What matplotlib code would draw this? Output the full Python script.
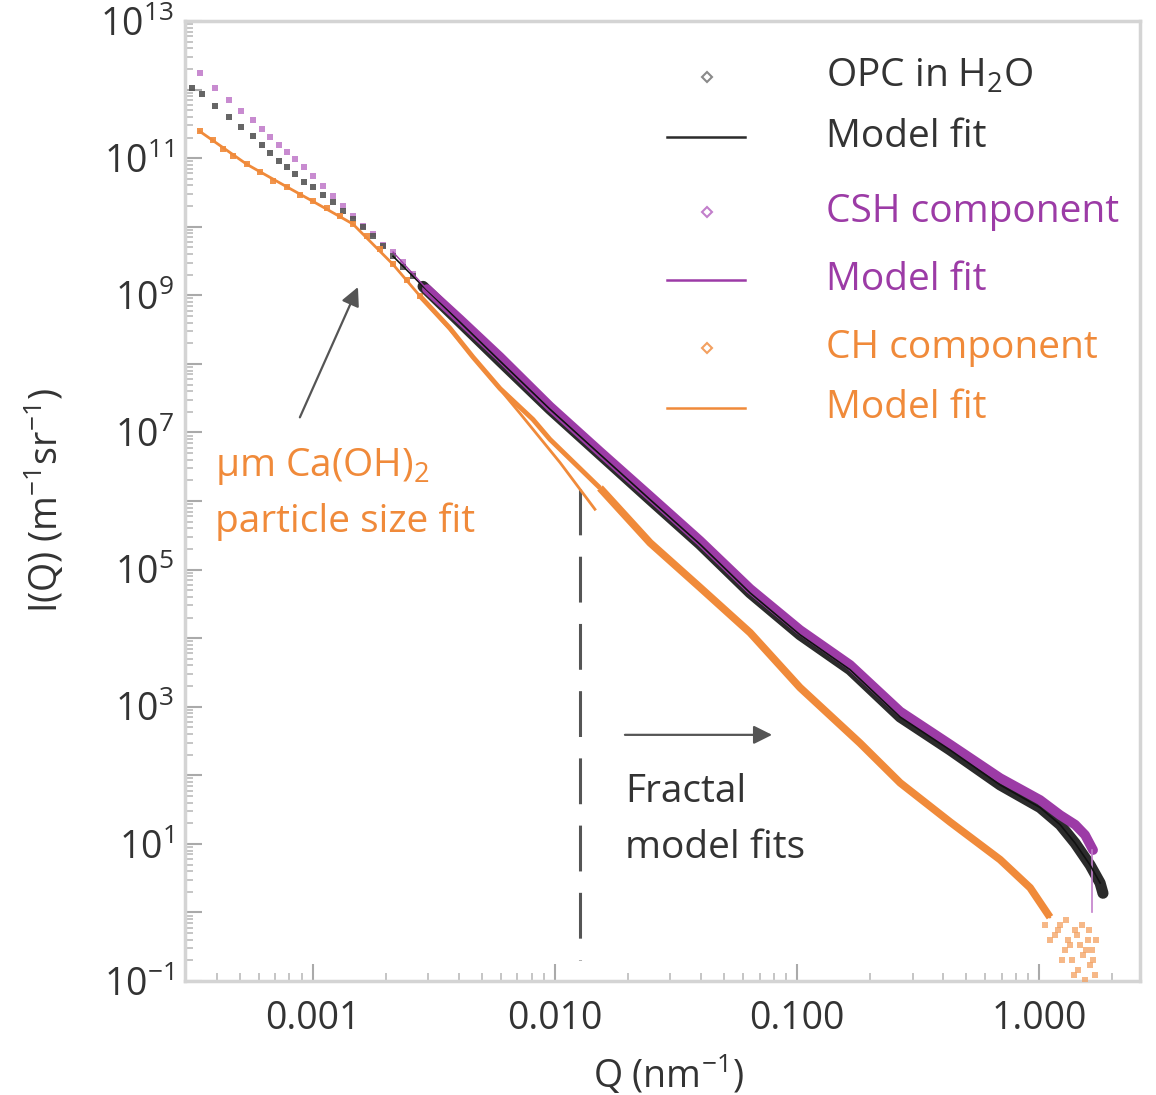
import numpy as np
import matplotlib
matplotlib.use("Agg")
import matplotlib.pyplot as plt
from matplotlib.ticker import FixedLocator, FuncFormatter, LogLocator, NullFormatter

plt.rcParams['font.family'] = ['Open Sans', 'DejaVu Sans']
plt.rcParams['mathtext.fontset'] = 'custom'
plt.rcParams['mathtext.rm'] = 'Open Sans'
plt.rcParams['mathtext.it'] = 'Open Sans:italic'
plt.rcParams['mathtext.bf'] = 'Open Sans:bold'

# ---------------- data (log10 Q [nm^-1], log10 I(Q) [m^-1 sr^-1]) ----------------
# OPC in H2O : sparse low-Q points
opc_lq_sparse = [-3.500, -3.459, -3.405, -3.347, -3.298, -3.248, -3.211, -3.178, -3.140, -3.107,
                 -3.074, -3.037, -3.000, -2.959, -2.917, -2.876, -2.835, -2.793, -2.752, -2.711,
                 -2.669, -2.628, -2.587, -2.545]
opc_li_sparse = [12.02, 11.93, 11.76, 11.60, 11.45, 11.32, 11.19, 11.07, 10.96, 10.87,
                 10.77, 10.65, 10.58, 10.47, 10.36, 10.23, 10.11, 9.99, 9.86, 9.72,
                 9.57, 9.42, 9.28, 9.13]
# OPC in H2O : dense data band
opc_lq_dense = [-2.545, -2.393, -2.227, -2.021, -1.814, -1.607, -1.401, -1.194, -0.988, -0.781,
                -0.574, -0.368, -0.161, 0.004, 0.087, 0.149, 0.211, 0.252, 0.264]
opc_li_dense = [9.13, 8.61, 8.04, 7.34, 6.68, 6.02, 5.37, 4.66, 4.05, 3.54,
                2.85, 2.37, 1.86, 1.53, 1.28, 1.01, 0.69, 0.43, 0.28]

# CSH component
csh_lq_sparse = [-3.467, -3.405, -3.347, -3.298, -3.248, -3.211, -3.178, -3.140, -3.107, -3.074,
                 -3.037, -3.000, -2.959, -2.917, -2.876, -2.835, -2.793, -2.752, -2.711, -2.669,
                 -2.628, -2.587, -2.529]
csh_li_sparse = [12.24, 12.02, 11.85, 11.69, 11.55, 11.42, 11.31, 11.19, 11.09, 10.99,
                 10.87, 10.74, 10.59, 10.45, 10.30, 10.15, 10.01, 9.89, 9.74, 9.63,
                 9.48, 9.31, 9.09]
csh_lq_dense = [-2.529, -2.393, -2.227, -2.021, -1.814, -1.607, -1.401, -1.194, -0.988, -0.781,
                -0.574, -0.368, -0.161, 0.004, 0.087, 0.149, 0.190, 0.223]
csh_li_dense = [9.09, 8.65, 8.10, 7.38, 6.72, 6.07, 5.42, 4.72, 4.12, 3.61,
                2.93, 2.45, 1.96, 1.64, 1.42, 1.28, 1.13, 0.91]
csh_errbar_lq = 0.219
csh_errbar_li = [0.91, 0.00]

# CH component
ch_lq_sparse = [-3.467, -3.413, -3.372, -3.331, -3.273, -3.219, -3.165, -3.107, -3.054, -3.000,
                -2.942, -2.888, -2.835, -2.777, -2.723, -2.669, -2.612, -2.558]
ch_li_sparse = [11.39, 11.26, 11.13, 11.03, 10.91, 10.80, 10.66, 10.58, 10.47, 10.37,
                10.28, 10.15, 10.04, 9.86, 9.67, 9.45, 9.23, 8.99]
ch_lq_mid = [-2.558, -2.434, -2.339, -2.227, -2.091, -2.021, -1.814]
ch_li_mid = [8.99, 8.52, 8.10, 7.64, 7.19, 6.90, 6.19]
ch_lq_dense = [-1.814, -1.607, -1.401, -1.194, -0.988, -0.740, -0.574, -0.368, -0.161, -0.037, 0.045]
ch_li_dense = [6.19, 5.39, 4.74, 4.08, 3.28, 2.47, 1.89, 1.32, 0.77, 0.36, -0.07]
ch_lq_noise = [0.066, 0.087, 0.107, 0.120, 0.136, 0.149, 0.161, 0.169, 0.182, 0.190,
               0.202, 0.211, 0.219, 0.231, 0.025, 0.045, 0.079, 0.095, 0.112, 0.128,
               0.145, 0.157, 0.178, 0.194, 0.207, 0.223, 0.236, 0.128]
ch_li_noise = [-0.33, -0.18, -0.55, -0.40, -0.69, -0.26, -0.84, -0.47, -0.62, -0.99,
               -0.40, -0.77, -0.55, -0.91, -0.18, -0.40, -0.26, -0.69, -0.11, -0.47,
               -0.91, -0.33, -0.18, -0.55, -0.26, -0.69, -0.40, -1.06]

# Model fits
opc_fit_lq = [-2.669, -2.545, -2.393, -2.227, -2.021, -1.814, -1.607, -1.401,
              -1.194, -0.988, -0.781, -0.574, -0.368, -0.161, 0.004, 0.087, 0.149, 0.211, 0.252]
opc_fit_li = [9.57, 9.13, 8.61, 8.04, 7.34, 6.68, 6.02, 5.37,
              4.66, 4.05, 3.54, 2.85, 2.37, 1.86, 1.53, 1.28, 1.01, 0.69, 0.43]
csh_fit_lq = [-2.669, -2.529, -2.393, -2.227, -2.021, -1.814, -1.607, -1.401,
              -1.194, -0.988, -0.781, -0.574, -0.368, -0.161, 0.004, 0.087, 0.149, 0.190]
csh_fit_li = [9.63, 9.09, 8.65, 8.10, 7.38, 6.72, 6.07, 5.42,
              4.72, 4.12, 3.61, 2.93, 2.45, 1.96, 1.64, 1.42, 1.28, 1.13]
ch_psfit_lq = [-3.467, -3.273, -3.107, -3.000, -2.835, -2.669, -2.558, -2.434, -2.310, -2.145, -1.979, -1.835]
ch_psfit_li = [11.39, 10.91, 10.58, 10.37, 10.04, 9.45, 8.99, 8.50, 7.98, 7.28, 6.56, 5.88]
ch_frfit_lq = [-2.021, -1.814, -1.607, -1.401, -1.194, -0.988, -0.740, -0.574, -0.368, -0.161, -0.037, 0.045]
ch_frfit_li = [6.90, 6.19, 5.39, 4.74, 4.08, 3.28, 2.47, 1.89, 1.32, 0.77, 0.36, -0.07]

# Annotation anchors (log10 values)
cut_lq = -1.897
cut_li = [6.17, -0.69]

# ---------------- styling ----------------
C_BLK = '#2b2b2b'
C_PUR = '#9c3ba6'
C_ORG = '#f08a3a'
C_PUR_L = '#c27fcb'
C_ORG_L = '#f3a060'
C_BLK_L = '#555555'

def p(a):
    return np.power(10.0, np.asarray(a, dtype=float))

fig = plt.figure(figsize=(11.56, 10.95), dpi=100)
ax = fig.add_axes([0.1600, 0.1041, 0.8261, 0.8767])
ax.set_xscale('log')
ax.set_yscale('log')
ax.set_xlim(2.96e-4, 2.61)
ax.set_ylim(1e-1, 1e13)

# data: sparse markers
ax.plot(p(csh_lq_sparse), p(csh_li_sparse), 's', ms=5, mew=0, color=C_PUR_L, alpha=0.9, zorder=3)
ax.plot(p(opc_lq_sparse), p(opc_li_sparse), 's', ms=4.5, mew=0, color=C_BLK_L, alpha=0.9, zorder=3)
ax.plot(p(ch_lq_sparse), p(ch_li_sparse), 's', ms=4.5, mew=0, color=C_ORG, alpha=0.9, zorder=3)

# data: dense bands
ax.plot(p(opc_lq_dense), p(opc_li_dense), '-', lw=8, color=C_BLK, solid_capstyle='round', zorder=3)
ax.plot(p(csh_lq_dense), p(csh_li_dense), '-', lw=7, color=C_PUR, solid_capstyle='round', zorder=4)
ax.plot([p(csh_errbar_lq)] * 2, p(csh_errbar_li), '-', lw=1.2, color=C_PUR_L, zorder=4)
ax.plot(p(ch_lq_mid), p(ch_li_mid), '-', lw=3.5, color=C_ORG, solid_capstyle='butt', zorder=3)
ax.plot(p(ch_lq_dense), p(ch_li_dense), '-', lw=5.5, color=C_ORG, solid_capstyle='butt', zorder=3)
ax.plot(p(ch_lq_noise), p(ch_li_noise), 's', ms=5, mew=0, color=C_ORG_L, alpha=0.75, zorder=3)

# fits
ax.plot(p(opc_fit_lq), p(opc_fit_li), '-', lw=1.2, color='#111111', zorder=5)
ax.plot(p(csh_fit_lq), p(csh_fit_li), '-', lw=1.0, color=C_PUR, zorder=5)
ax.plot(p(ch_psfit_lq), p(ch_psfit_li), '-', lw=2.0, color=C_ORG, zorder=5)
ax.plot(p(ch_frfit_lq), p(ch_frfit_li), '-', lw=1.5, color=C_ORG, zorder=5)

# dashed cut-off line
ax.plot([p(cut_lq)] * 2, p(cut_li), color='#555555', lw=2.2, ls=(0, (15, 7)), zorder=2)

# arrows
ax.annotate('', xy=(p(-2.814), p(9.12)), xytext=(p(-3.054), p(7.22)),
            arrowprops=dict(arrowstyle='-|>', color='#555555', lw=1.6, mutation_scale=28,
                            shrinkA=0, shrinkB=0), zorder=6)
ax.annotate('', xy=(p(-1.103), p(2.59)), xytext=(p(-1.711), p(2.59)),
            arrowprops=dict(arrowstyle='-|>', color='#555555', lw=1.6, mutation_scale=28,
                            shrinkA=0, shrinkB=0), zorder=6)

FS = 28
FS_TICK = 27
ax.text(p(-3.405), p(6.50), u'\u00b5m Ca(OH)$_2$', color=C_ORG, fontsize=FS, ha='left', va='center')
ax.text(p(-3.405), p(5.70), 'particle size fit', color=C_ORG, fontsize=FS, ha='left', va='center')
ax.text(p(-1.711), p(1.76), 'Fractal', color='#333333', fontsize=FS, ha='left', va='center')
ax.text(p(-1.711), p(0.94), 'model fits', color='#333333', fontsize=FS, ha='left', va='center')

# legend (manual, axes fraction)
leg_rows = [0.9417, 0.8792, 0.8010, 0.7302, 0.6594, 0.5969]
leg_labels = ['OPC in H$_2$O', 'Model fit', 'CSH component', 'Model fit', 'CH component', 'Model fit']
leg_colors = ['#333333', '#333333', C_PUR, C_PUR, C_ORG, C_ORG]
leg_kind = ['m', 'l', 'm', 'l', 'm', 'l']
leg_mcol = ['#8a8a8a', '#2b2b2b', C_PUR_L, C_PUR, C_ORG_L, C_ORG]
for yy, lab, col, k, mc in zip(leg_rows, leg_labels, leg_colors, leg_kind, leg_mcol):
    if k == 'm':
        ax.plot([0.5466], [yy], 'D', ms=5, mfc='white', mec=mc, mew=1.5, transform=ax.transAxes, zorder=6)
    else:
        ax.plot([0.5047, 0.5864], [yy, yy], '-', lw=1.8, color=mc, transform=ax.transAxes, zorder=6)
    ax.text(0.6712, yy, lab, color=col, fontsize=FS, ha='left', va='center', transform=ax.transAxes)

# axes styling
for s in ax.spines.values():
    s.set_color('#d4d4d4')
    s.set_linewidth(2.5)

ymaj = [10.0 ** k for k in range(-1, 14)]
ax.yaxis.set_major_locator(FixedLocator(ymaj))
def yfmt(v, pos):
    k = int(round(np.log10(v)))
    if k % 2 == 1 or k == -1:
        return r'$10^{%d}$' % k
    return ''
ax.yaxis.set_major_formatter(FuncFormatter(yfmt))
ax.yaxis.set_minor_locator(LogLocator(base=10, subs=np.arange(2, 10), numticks=50))
ax.yaxis.set_minor_formatter(NullFormatter())

ax.xaxis.set_major_locator(FixedLocator([1e-3, 1e-2, 1e-1, 1.0]))
ax.xaxis.set_major_formatter(FuncFormatter(lambda v, pos: '%.3f' % v))
ax.xaxis.set_minor_locator(LogLocator(base=10, subs=np.arange(2, 10), numticks=50))
ax.xaxis.set_minor_formatter(NullFormatter())

ax.tick_params(axis='both', which='major', direction='in', length=12, width=1.5, colors='#aaaaaa',
               labelcolor='#333333', labelsize=FS_TICK)
ax.tick_params(axis='both', which='minor', direction='in', length=6, width=1.2, colors='#bbbbbb')
ax.tick_params(axis='x', which='major', pad=14)
ax.tick_params(axis='y', which='major', pad=8)
ax.tick_params(top=False, right=False, which='both')

fig.text(45 / 1156, 1 - 500 / 1095, 'I(Q) (m$^{-1}$sr$^{-1}$)', rotation=90, ha='center', va='center',
         fontsize=FS_TICK, color='#333333')
fig.text(668 / 1156, 1 - 1075 / 1095, 'Q (nm$^{-1}$)', ha='center', va='center', fontsize=FS_TICK, color='#333333')

fig.savefig('out.png', dpi=100)
